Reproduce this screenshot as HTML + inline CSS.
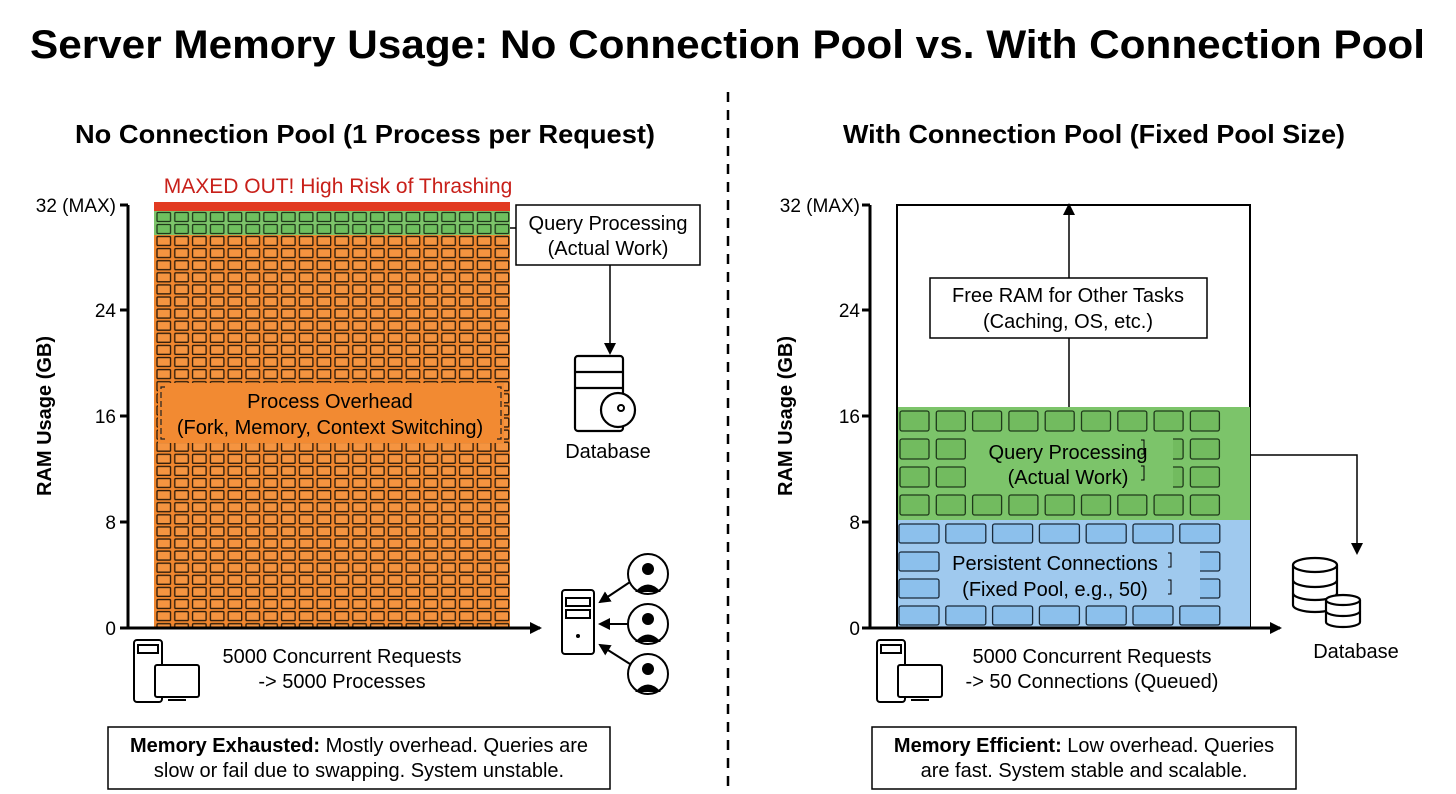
<!DOCTYPE html>
<html><head><meta charset="utf-8"><style>
body{margin:0;background:#fff;}
svg{display:block;font-family:"Liberation Sans",Arial,sans-serif;}
</style></head><body>
<svg width="1456" height="794" viewBox="0 0 1456 794" xmlns="http://www.w3.org/2000/svg">
<defs>
<pattern id="po" x="155" y="235" width="17.8" height="12.1" patternUnits="userSpaceOnUse">
<rect width="17.8" height="12.1" fill="#f0862e"/>
<rect x="2" y="1.5" width="13.5" height="9" rx="1" fill="#f59440" stroke="#2a1a0a" stroke-width="1.3"/>
</pattern>
<pattern id="pg" x="155" y="211" width="17.8" height="12" patternUnits="userSpaceOnUse">
<rect width="17.8" height="12" fill="#7cc46a"/>
<rect x="2" y="1.5" width="13.5" height="9" rx="1" fill="#6fbf5f" stroke="#1f3a1a" stroke-width="1.3"/>
</pattern>
<marker id="ar" markerWidth="12" markerHeight="12" refX="10" refY="6" orient="auto" markerUnits="userSpaceOnUse"><path d="M0,0 L12,6 L0,12 Z" fill="#000"/></marker>
</defs>
<text x="30" y="58" font-size="40" font-weight="bold" textLength="1395" lengthAdjust="spacingAndGlyphs">Server Memory Usage: No Connection Pool vs. With Connection Pool</text>
<text x="75" y="143" font-size="26" font-weight="bold" textLength="580" lengthAdjust="spacingAndGlyphs">No Connection Pool (1 Process per Request)</text>
<text x="843" y="143" font-size="26" font-weight="bold" textLength="502" lengthAdjust="spacingAndGlyphs">With Connection Pool (Fixed Pool Size)</text>
<line x1="728" y1="92" x2="728" y2="788" stroke="#000" stroke-width="2.5" stroke-dasharray="10,8"/>

<!-- LEFT -->
<text x="338" y="193" font-size="21" fill="#c8201a" text-anchor="middle">MAXED OUT! High Risk of Thrashing</text>
<rect x="154" y="202" width="356" height="9" fill="#e23b22"/>
<rect x="154" y="211" width="356" height="24" fill="url(#pg)"/>
<rect x="154" y="235" width="356" height="393" fill="url(#po)"/>
<rect x="158" y="383" width="346" height="60" fill="#f28a32"/>
<path d="M165,387 h-4 v52 h4 M497,387 h4 v52 h-4" fill="none" stroke="#222" stroke-width="1.2" stroke-dasharray="6,3"/>
<text x="330" y="408" font-size="20" text-anchor="middle">Process Overhead</text>
<text x="330" y="434" font-size="20" text-anchor="middle">(Fork, Memory, Context Switching)</text>
<line x1="128" y1="205" x2="128" y2="628" stroke="#000" stroke-width="3"/>
<line x1="120" y1="628" x2="540" y2="628" stroke="#000" stroke-width="3" marker-end="url(#ar)"/>
<g stroke="#000" stroke-width="3"><line x1="120" y1="205" x2="128" y2="205"/><line x1="120" y1="310" x2="128" y2="310"/><line x1="120" y1="416" x2="128" y2="416"/><line x1="120" y1="522" x2="128" y2="522"/></g>
<g font-size="19" text-anchor="end"><text x="116" y="212">32 (MAX)</text><text x="116" y="317">24</text><text x="116" y="423">16</text><text x="116" y="529">8</text><text x="116" y="635">0</text></g>
<text transform="translate(51,416) rotate(-90)" font-size="20" font-weight="bold" text-anchor="middle">RAM Usage (GB)</text>
<line x1="510" y1="228" x2="516" y2="228" stroke="#000" stroke-width="1.5"/>
<rect x="516" y="205" width="184" height="60" fill="#fff" stroke="#000" stroke-width="1.5"/>
<text x="608" y="230" font-size="20" text-anchor="middle">Query Processing</text>
<text x="608" y="255" font-size="20" text-anchor="middle">(Actual Work)</text>
<line x1="610" y1="265" x2="610" y2="353" stroke="#000" stroke-width="1.5" marker-end="url(#ar)"/>
<g fill="#fff" stroke="#000" stroke-width="2.2">
<rect x="575" y="356" width="48" height="75" rx="3"/><line x1="575" y1="372" x2="623" y2="372"/><line x1="575" y1="388" x2="623" y2="388"/>
<circle cx="618" cy="410" r="17"/>
</g>
<circle cx="621" cy="408" r="3" fill="none" stroke="#000" stroke-width="2"/>
<text x="608" y="458" font-size="20" text-anchor="middle">Database</text>
<g fill="#fff" stroke="#000" stroke-width="2">
<rect x="562" y="590" width="32" height="64" rx="3"/><rect x="566" y="598" width="24" height="8"/><rect x="566" y="610" width="24" height="8"/>
<circle cx="648" cy="574" r="20"/><circle cx="648" cy="624" r="20"/><circle cx="648" cy="674" r="20"/>
</g>
<g fill="#000"><circle cx="578" cy="636" r="2"/>
<circle cx="648" cy="569" r="6"/><path d="M635,592 q13,-15 26,0z"/><circle cx="648" cy="619" r="6"/><path d="M635,642 q13,-15 26,0z"/><circle cx="648" cy="669" r="6"/><path d="M635,692 q13,-15 26,0z"/></g>
<g stroke="#000" stroke-width="2"><line x1="630" y1="582" x2="600" y2="602" marker-end="url(#ar)"/><line x1="628" y1="624" x2="600" y2="624" marker-end="url(#ar)"/><line x1="630" y1="664" x2="600" y2="645" marker-end="url(#ar)"/></g>
<g fill="#fff" stroke="#000" stroke-width="2">
<rect x="134" y="640" width="28" height="62" rx="3"/><rect x="138" y="645" width="20" height="8"/><rect x="155" y="665" width="44" height="32" rx="2"/><line x1="168" y1="700" x2="186" y2="700"/>
</g>
<text x="342" y="663" font-size="20" text-anchor="middle">5000 Concurrent Requests</text>
<text x="342" y="688" font-size="20" text-anchor="middle">-&gt; 5000 Processes</text>
<rect x="108" y="727" width="502" height="62" fill="#fff" stroke="#000" stroke-width="1.5"/>
<text x="359" y="752" font-size="20" text-anchor="middle"><tspan font-weight="bold">Memory Exhausted:</tspan> Mostly overhead. Queries are</text>
<text x="359" y="777" font-size="20" text-anchor="middle">slow or fail due to swapping. System unstable.</text>

<!-- RIGHT -->
<rect x="897" y="205" width="353" height="423" fill="#fff" stroke="#000" stroke-width="2"/>
<rect x="898" y="407" width="352" height="113" fill="#7cc46a"/>
<rect x="898" y="520" width="352" height="108" fill="#9fc9ee"/>
<g id="gb" fill="#72bb5f" stroke="#1f3a1a" stroke-width="1.3"></g>
<g id="bb" fill="#8cc0ec" stroke="#1a2a3a" stroke-width="1.3"></g>
<rect id="m1" x="968" y="437" width="205" height="52" fill="#7cc46a"/>
<path d="M1141,440 h3 v14 h-3 M1141,466 h3 v14 h-3" fill="none" stroke="#000" stroke-width="1"/>
<text x="1068" y="459" font-size="20" text-anchor="middle">Query Processing</text>
<text x="1068" y="484" font-size="20" text-anchor="middle">(Actual Work)</text>
<rect x="940" y="550" width="260" height="52" fill="#9fc9ee"/>
<path d="M1168,553 h3 v14 h-3 M1168,580 h3 v14 h-3" fill="none" stroke="#000" stroke-width="1"/>
<text x="1055" y="570" font-size="20" text-anchor="middle">Persistent Connections</text>
<text x="1055" y="596" font-size="20" text-anchor="middle">(Fixed Pool, e.g., 50)</text>
<line x1="1069" y1="407" x2="1069" y2="205" stroke="#000" stroke-width="1.5" marker-end="url(#ar)"/>
<rect x="930" y="278" width="277" height="60" fill="#fff" stroke="#000" stroke-width="1.5"/>
<text x="1068" y="302" font-size="20" text-anchor="middle">Free RAM for Other Tasks</text>
<text x="1068" y="328" font-size="20" text-anchor="middle">(Caching, OS, etc.)</text>
<polyline points="1250,455 1357,455 1357,553" fill="none" stroke="#000" stroke-width="1.5" marker-end="url(#ar)"/>
<line x1="870" y1="205" x2="870" y2="628" stroke="#000" stroke-width="3"/>
<line x1="862" y1="628" x2="1280" y2="628" stroke="#000" stroke-width="3" marker-end="url(#ar)"/>
<g stroke="#000" stroke-width="3"><line x1="862" y1="205" x2="870" y2="205"/><line x1="862" y1="310" x2="870" y2="310"/><line x1="862" y1="416" x2="870" y2="416"/><line x1="862" y1="522" x2="870" y2="522"/></g>
<g font-size="19" text-anchor="end"><text x="860" y="212">32 (MAX)</text><text x="860" y="317">24</text><text x="860" y="423">16</text><text x="860" y="529">8</text><text x="860" y="635">0</text></g>
<text transform="translate(792,416) rotate(-90)" font-size="20" font-weight="bold" text-anchor="middle">RAM Usage (GB)</text>
<g fill="#fff" stroke="#000" stroke-width="2.2">
<path d="M1293,565 v40 a22,7 0 0 0 44,0 v-40"/><ellipse cx="1315" cy="565" rx="22" ry="7"/><path d="M1293,580 a22,7 0 0 0 44,0 M1293,593 a22,7 0 0 0 44,0"/>
<path d="M1326,600 v22 a17,5 0 0 0 34,0 v-22"/><ellipse cx="1343" cy="600" rx="17" ry="5"/><path d="M1326,611 a17,5 0 0 0 34,0"/>
</g>
<text x="1356" y="658" font-size="20" text-anchor="middle">Database</text>
<g fill="#fff" stroke="#000" stroke-width="2">
<rect x="877" y="640" width="28" height="62" rx="3"/><rect x="881" y="645" width="20" height="8"/><rect x="898" y="665" width="44" height="32" rx="2"/><line x1="911" y1="700" x2="929" y2="700"/>
</g>
<text x="1092" y="663" font-size="20" text-anchor="middle">5000 Concurrent Requests</text>
<text x="1092" y="688" font-size="20" text-anchor="middle">-&gt; 50 Connections (Queued)</text>
<rect x="872" y="727" width="424" height="62" fill="#fff" stroke="#000" stroke-width="1.5"/>
<text x="1084" y="752" font-size="20" text-anchor="middle"><tspan font-weight="bold">Memory Efficient:</tspan> Low overhead. Queries</text>
<text x="1084" y="777" font-size="20" text-anchor="middle">are fast. System stable and scalable.</text>
</svg>
<script>
var ns="http://www.w3.org/2000/svg";
function r(g,x,y,w,h){var e=document.createElementNS(ns,"rect");e.setAttribute("x",x);e.setAttribute("y",y);e.setAttribute("width",w);e.setAttribute("height",h);e.setAttribute("rx",2);g.appendChild(e);}
var gb=document.getElementById("gb"),bb=document.getElementById("bb");
var gy=[411,439,467,495];
for(var i=0;i<4;i++)for(var c=0;c<9;c++){if((i==1||i==2)&&c>=2&&c<=6)continue;r(gb,900+c*36.3,gy[i],29,20);}
var by=[524,552,579,606];
for(var i=0;i<4;i++)for(var c=0;c<7;c++){if((i==1||i==2)&&c>=1&&c<=5)continue;r(bb,899+c*46.8,by[i],40,19);}
</script>
</body></html>
